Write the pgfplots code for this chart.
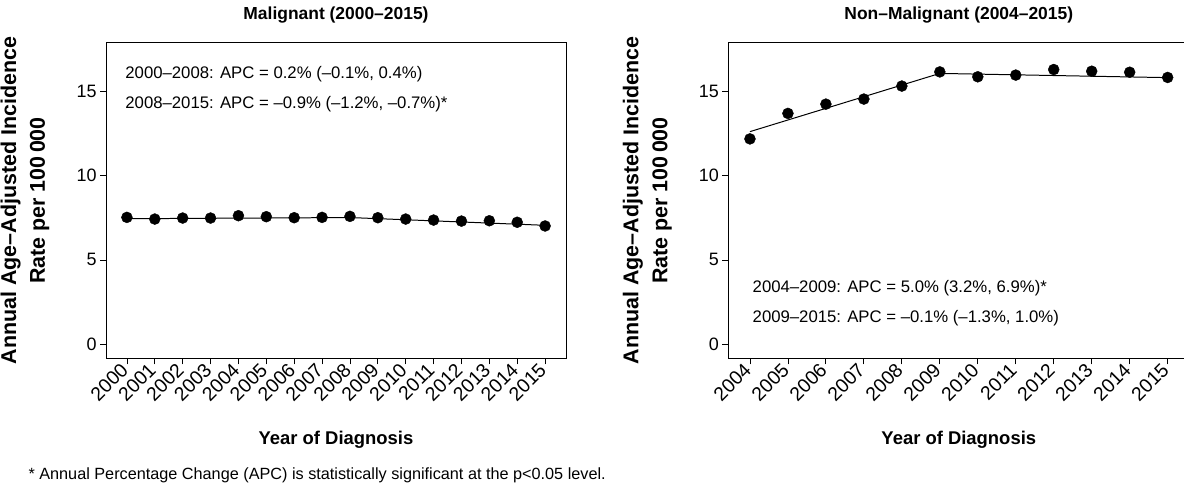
\documentclass[border=0pt]{standalone}
\usepackage{pgfplots}
\pgfplotsset{compat=1.18}
\usepackage{fontspec}
\setmainfont{Liberation Sans}

\pgfplotsset{
  apcstyle/.style={
    scale only axis,
    height=315.6bp,
    ymin=-0.83, ymax=17.87,
    ytick={0,5,10,15},
    tick align=outside,
    major tick length=6bp,
    tick style={black, line width=0.8pt},
    axis line style={black, line width=0.8pt},
    xtick pos=bottom, ytick pos=left,
    /pgf/number format/assume math mode=true,
    /pgf/number format/set thousands separator={},
    x tick label style={rotate=45, anchor=east, font=\fontsize{19.5}{19.5}\selectfont},
    y tick label style={font=\fontsize{18}{18}\selectfont},
    every axis title/.style={at={([yshift=28bp]axis description cs:0.5,1)}, anchor=center, font=\bfseries\fontsize{17.5}{20}\selectfont},
    xlabel={Year of Diagnosis},
    every axis x label/.style={at={([yshift=-81.7bp]axis description cs:0.5,0)}, anchor=center, font=\bfseries\fontsize{18.5}{20}\selectfont},
    ylabel={Annual Age–Adjusted Incidence\\Rate per 100\,000},
    every axis y label/.style={at={([xshift=-81bp]axis description cs:0,0.5)}, rotate=90, anchor=center, align=center, font=\bfseries\fontsize{21.5}{29}\selectfont},
  }
}

\begin{document}
\begin{tikzpicture}
\begin{axis}[apcstyle,
  at={(106bp,128.7bp)}, anchor=south west,
  width=460bp,
  xmin=1999.25, xmax=2015.75,
  xtick={2000,2001,...,2015},
  title={Malignant (2000–2015)},
]
\addplot[black, line width=1pt, no marks] coordinates {(2000,7.44) (2008,7.51) (2015,7.05)};
\addplot[only marks, mark=*, mark size=5.5bp, black] coordinates {
(2000,7.52) (2001,7.42) (2002,7.48) (2003,7.48) (2004,7.62) (2005,7.56)
(2006,7.50) (2007,7.52) (2008,7.58) (2009,7.50) (2010,7.42) (2011,7.36)
(2012,7.30) (2013,7.32) (2014,7.23) (2015,7.01)};
\node[anchor=west, font=\fontsize{16.8}{18}\selectfont] at (axis cs:1999.82,16.0) {2000–2008: APC = 0.2\% (–0.1\%, 0.4\%)};
\node[anchor=west, font=\fontsize{16.8}{18}\selectfont] at (axis cs:1999.82,14.2) {2008–2015: APC = –0.9\% (–1.2\%, –0.7\%)*};
\end{axis}

\begin{axis}[apcstyle,
  at={(728.3bp,128.7bp)}, anchor=south west,
  width=461bp,
  xmin=2003.43, xmax=2015.57,
  xtick={2004,2005,...,2015},
  title={Non–Malignant (2004–2015)},
]
\addplot[black, line width=1pt, no marks] coordinates {(2004,12.6) (2009,16.05) (2015,15.8)};
\addplot[only marks, mark=*, mark size=5.5bp, black] coordinates {
(2004,12.17) (2005,13.68) (2006,14.23) (2007,14.53) (2008,15.30) (2009,16.14)
(2010,15.85) (2011,15.95) (2012,16.28) (2013,16.18) (2014,16.12) (2015,15.81)};
\node[anchor=west, font=\fontsize{16.8}{18}\selectfont] at (axis cs:2003.98,3.33) {2004–2009: APC = 5.0\% (3.2\%, 6.9\%)*};
\node[anchor=west, font=\fontsize{16.8}{18}\selectfont] at (axis cs:2003.98,1.56) {2009–2015: APC = –0.1\% (–1.3\%, 1.0\%)};
\end{axis}

\node[anchor=west, font=\fontsize{16.3}{18}\selectfont] at (25bp,12bp) {* Annual Percentage Change (APC) is statistically significant at the p<0.05 level.};

\pgfresetboundingbox
\path (0,0) rectangle (1184bp,487bp);
\end{tikzpicture}
\end{document}
